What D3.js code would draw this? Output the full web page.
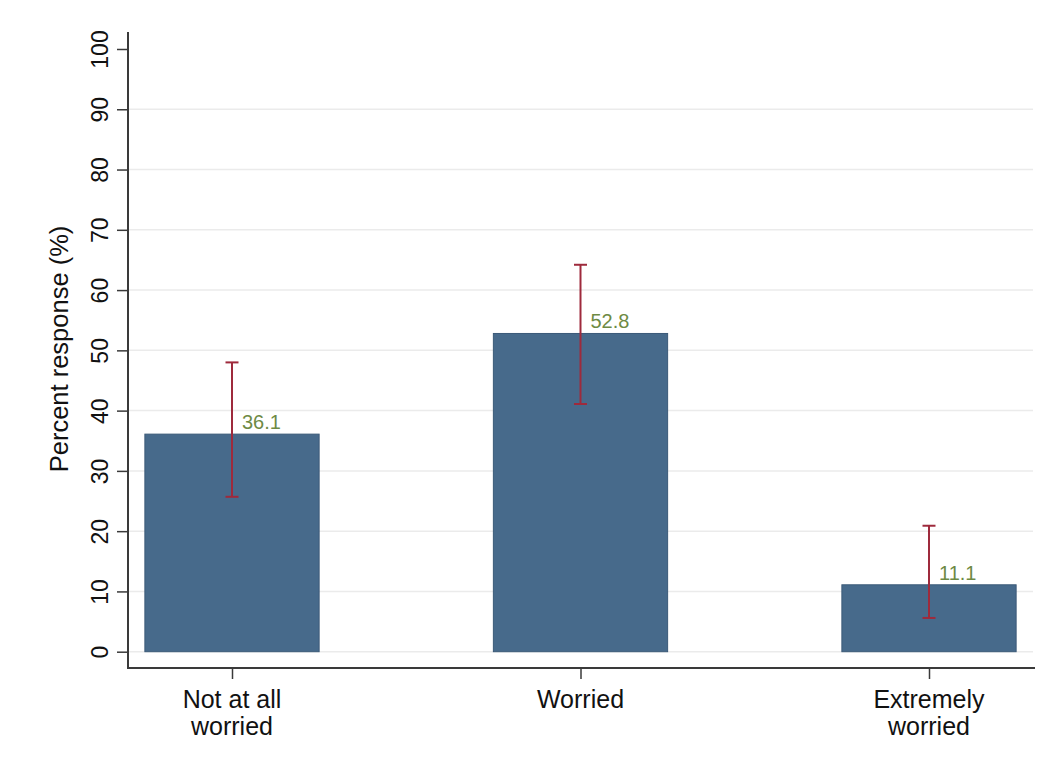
<!DOCTYPE html>
<html>
<head>
<meta charset="utf-8">
<script src="https://cdn.jsdelivr.net/npm/d3@7"></script>
<style>
  html, body { margin: 0; padding: 0; background: #ffffff; }
  svg { display: block; font-family: "Liberation Sans", Arial, sans-serif; }
</style>
</head>
<body>
<svg id="chart" width="1047" height="770"></svg>
<script>
// ---- data ----
const categories = ["Not at all worried", "Worried", "Extremely worried"];
const categoryLines = [["Not at all", "worried"], ["Worried"], ["Extremely", "worried"]];
const percents = [36.1, 52.8, 11.1];
const ciLower = [25.7, 41.1, 5.6];
const ciUpper = [48.0, 64.2, 20.9];
const yTicks = [0, 10, 20, 30, 40, 50, 60, 70, 80, 90, 100];
const gridTicks = [0, 10, 20, 30, 40, 50, 60, 70, 80, 90];
const yTitle = "Percent response (%)";

// ---- layout ----
const svg = d3.select("#chart");
const axisX = 128, axisY = 668;
const plotRight = 1033;

const y = d3.scaleLinear().domain([0, 100]).range([651.7, 49]);
const x = d3.scalePoint().domain(categories).range([232, 929]);
const barW = x.step() / 2;

const axisColor = "#3a3a3a";
const barFill = "#476a8b";
const barStroke = "#3b5a78";
const errColor = "#9e2a3c";
const labelColor = "#6e8a44";

// gridlines
svg.append("g").selectAll("line").data(gridTicks).join("line")
  .attr("x1", axisX + 1).attr("x2", plotRight)
  .attr("y1", d => y(d)).attr("y2", d => y(d))
  .attr("stroke", "#ebebeb").attr("stroke-width", 1.5);

// bars
svg.append("g").selectAll("rect").data(categories).join("rect")
  .attr("x", d => x(d) - barW / 2)
  .attr("width", barW)
  .attr("y", (d, i) => y(percents[i]))
  .attr("height", (d, i) => y(0) - y(percents[i]))
  .attr("fill", barFill)
  .attr("stroke", barStroke)
  .attr("stroke-width", 1);

// error bars
const eb = svg.append("g").attr("stroke", errColor).attr("stroke-width", 2).attr("fill", "none");
categories.forEach((c, i) => {
  const cx = x(c);
  eb.append("line").attr("x1", cx).attr("x2", cx).attr("y1", y(ciLower[i])).attr("y2", y(ciUpper[i]));
  eb.append("line").attr("x1", cx - 6.5).attr("x2", cx + 6.5).attr("y1", y(ciLower[i])).attr("y2", y(ciLower[i]));
  eb.append("line").attr("x1", cx - 6.5).attr("x2", cx + 6.5).attr("y1", y(ciUpper[i])).attr("y2", y(ciUpper[i]));
});

// value labels
svg.append("g").selectAll("text").data(categories).join("text")
  .attr("x", d => x(d) + 10)
  .attr("y", (d, i) => y(percents[i]) - 5)
  .attr("fill", labelColor)
  .attr("font-size", 20)
  .text((d, i) => percents[i].toFixed(1));

// y axis
const yAxis = d3.axisLeft(y).tickValues(yTicks).tickSize(11).tickPadding(9).tickFormat(d3.format("d"));
const gy = svg.append("g").attr("transform", `translate(${axisX},0)`).call(yAxis);
gy.select(".domain").remove();
gy.selectAll(".tick line").attr("stroke", axisColor).attr("stroke-width", 1.5);
gy.selectAll(".tick text")
  .attr("x", null).attr("dy", null)
  .attr("transform", "translate(-20,0) rotate(-90)")
  .attr("text-anchor", "middle")
  .attr("font-size", 23)
  .attr("font-family", "Liberation Sans, Arial, sans-serif")
  .attr("fill", "#111");

svg.append("line").attr("x1", axisX).attr("x2", axisX).attr("y1", 32).attr("y2", axisY)
  .attr("stroke", axisColor).attr("stroke-width", 2);

// x axis
const xAxis = d3.axisBottom(x).tickSize(11).tickFormat("");
const gx = svg.append("g").attr("transform", `translate(0,${axisY})`).call(xAxis);
gx.select(".domain").remove();
gx.selectAll(".tick line").attr("stroke", axisColor).attr("stroke-width", 1.5);
svg.append("line").attr("x1", axisX - 1).attr("x2", 1035).attr("y1", axisY).attr("y2", axisY)
  .attr("stroke", axisColor).attr("stroke-width", 2);

// x labels
const xl = svg.append("g").attr("font-size", 25).attr("fill", "#111").attr("text-anchor", "middle");
categories.forEach((c, i) => {
  const t = xl.append("text").attr("x", x(c)).attr("y", 708);
  categoryLines[i].forEach((ln, j) => {
    t.append("tspan").attr("x", x(c)).attr("dy", j === 0 ? 0 : 27).text(ln);
  });
});

// y title
svg.append("text")
  .attr("transform", `translate(68,349) rotate(-90)`)
  .attr("text-anchor", "middle")
  .attr("font-size", 25.5)
  .attr("fill", "#111")
  .text(yTitle);
</script>
</body>
</html>
